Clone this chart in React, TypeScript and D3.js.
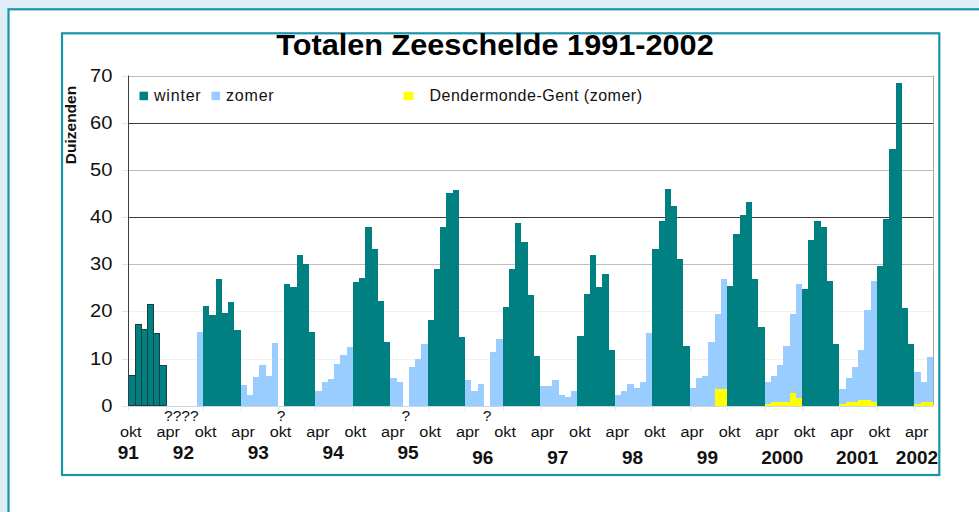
import * as d3 from 'd3'

// monthly totals (duizenden), seasons run okt..mar (winter) and apr..sep (zomer)
const winterValues: (number | null)[][] = [
  [6.3, 17.3, 16.2, 21.4, 15.4, 8.6], // 1991-92
  [21.1, 19.2, 26.9, 19.7, 22.0, 16.0],
  [null, 25.7, 25.2, 32.0, 30.0, 15.6],
  [26.2, 27.0, 37.8, 33.2, 22.1, 13.4],
  [18.1, 28.9, 37.8, 45.0, 45.8, 14.5],
  [20.9, 28.9, 38.7, 34.7, 23.4, 10.6],
  [14.7, 23.7, 32.0, 25.2, 27.9, 11.9],
  [33.2, 39.1, 45.9, 42.3, 31.2, 12.6],
  [25.3, 36.4, 40.4, 43.1, 26.9, 16.6],
  [24.8, 35.2, 39.1, 37.9, 26.5, 13.1],
  [29.6, 39.5, 54.5, 68.4, 20.8, 13.1], // 2001-02
]

const zomerValues: (number | null)[][] = [
  [null, null, null, null, null, 15.6], // 1992
  [4.3, 2.3, 6.0, 8.7, 6.3, 13.3],
  [3.2, 5.1, 5.6, 8.8, 10.7, 12.4],
  [5.9, 5.0, null, 8.2, 9.9, 13.0],
  [5.5, 3.2, 4.6, null, 11.3, 14.1],
  [4.2, 4.2, 5.5, 2.3, 1.9, 3.1],
  [2.3, 3.1, 4.6, 3.8, 5.1, 15.5],
  [3.7, 5.8, 6.3, 13.5, 19.4, 26.9],
  [5.1, 6.3, 8.6, 12.6, 19.4, 25.7],
  [3.6, 5.8, 8.1, 11.8, 20.2, 26.5],
  [7.2, 5.1, 10.3], // 2002
]

// Dendermonde-Gent (zomer), from 1999 on
const dgValues: (number | null)[][] = [
  [null, null, null, null, 3.5, 3.5], // 1999
  [0.4, 0.8, 0.8, 0.8, 2.7, 1.7],
  [0.4, 0.8, 0.8, 1.3, 1.3, 0.8],
  [0.4, 0.8, 0.8],
]
const dgFirstSeason = 7

const tickLabels = ['okt', 'apr']
const yearLabels = ['91', '92', '93', '94', '95', '96', '97', '98', '99', '2000', '2001', '2002']
const yTicks = [0, 10, 20, 30, 40, 50, 60, 70]
const legendItems = [
  { label: 'winter', color: '#008080' },
  { label: 'zomer', color: '#99ccff' },
  { label: 'Dendermonde-Gent (zomer)', color: '#ffff00' },
]

const N_MONTHS = 129 // okt 1991 .. jun 2002
const FONT = 'Liberation Sans, Arial, sans-serif'

type Bar = { m: number; v: number; kind: 'winter' | 'zomer' | 'dg'; first?: boolean }

function buildBars() {
  const bars: Bar[] = []
  winterValues.forEach((season, k) =>
    season.forEach((v, i) => { if (v != null) bars.push({ m: 12 * k + i, v, kind: 'winter', first: k === 0 }) }))
  zomerValues.forEach((season, k) =>
    season.forEach((v, i) => { if (v != null) bars.push({ m: 12 * k + 6 + i, v, kind: 'zomer' }) }))
  dgValues.forEach((season, k) =>
    season.forEach((v, i) => { if (v != null) bars.push({ m: 12 * (k + dgFirstSeason) + 6 + i, v, kind: 'dg' }) }))
  return bars
}

// the original's text is a bit stretched sideways
function SText({ x, y, sx = 1.12, children, ...rest }: any) {
  return (
    <text transform={`translate(${x},${y}) scale(${sx},1)`} {...rest}>{children}</text>
  )
}

export default function App() {
  const W = 979, H = 512
  const x = d3.scaleBand<number>().domain(d3.range(N_MONTHS)).range([128.3, 933]).padding(0)
  const y = d3.scaleLinear().domain([0, 70]).range([405.7, 75.5])
  const bw = x.bandwidth()
  const mx = (m: number) => x.range()[0] + m * x.step()
  const bars = buildBars()

  // missing months -> question marks
  const filled = new Set(bars.filter(b => b.kind !== 'dg').map(b => b.m))
  const gaps: { m0: number; m1: number }[] = []
  d3.range(N_MONTHS).forEach(m => {
    if (filled.has(m)) return
    const last = gaps[gaps.length - 1]
    if (last && last.m1 === m - 1) last.m1 = m
    else gaps.push({ m0: m, m1: m })
  })

  const ticks = d3.range(0, N_MONTHS, 6)
  const fills: Record<string, string> = { winter: '#008080', zomer: '#99ccff', dg: '#ffff00' }
  const gridColor = (t: number) =>
    t === 60 || t === 40 ? '#3c3c3c' : t === 50 || t === 30 || t === 70 ? '#bdbdbd' : t === 0 ? '#c8d6e2' : '#f1f1f1'

  const order = ['zomer', 'winter', 'dg']
  const sorted = [...bars].sort((a, b) => order.indexOf(a.kind) - order.indexOf(b.kind))

  return (
    <div style={{ position: 'absolute', left: 0, top: 0 }}>
      <svg width={W} height={H} style={{ display: 'block' }} fontFamily={FONT}>
        <rect width={W} height={H} fill="#dfeef6" />
        <rect x={8.5} y={9.3} width={1000} height={1000} fill="#fff" stroke="#1b93a8" strokeWidth={2.2} />
        <rect x={62} y={33.3} width={877.3} height={441.7} fill="#fff" stroke="#1b93a8" strokeWidth={2.2} />

        <SText x={495} y={55} sx={1.04} textAnchor="middle" fontSize={29.5} fontWeight="bold" fill="#000">
          Totalen Zeeschelde 1991-2002
        </SText>

        {/* grid */}
        {yTicks.map(t => (
          <g key={t}>
            <line x1={128} x2={933} y1={Math.round(y(t)) + 0.5} y2={Math.round(y(t)) + 0.5} stroke={gridColor(t)} strokeWidth={1} />
            <line x1={122} x2={128} y1={Math.round(y(t)) + 0.5} y2={Math.round(y(t)) + 0.5} stroke="#d6e8f6" />
            <SText x={112.5} y={y(t) + 6} sx={1.15} textAnchor="end" fontSize={17.5} fill="#111">{t}</SText>
          </g>
        ))}
        <line x1={933.5} x2={933.5} y1={y(70)} y2={y(0)} stroke="#a8a8a8" />

        {/* bars */}
        <g shapeRendering="crispEdges">
          {sorted.map((b, i) => {
            const x0 = Math.round(x(b.m)!)
            const x1 = Math.round(x(b.m)! + bw)
            return (
              <rect key={i} x={x0} y={y(b.v)} width={x1 - x0} height={y(0) - y(b.v)}
                fill={fills[b.kind]} stroke={b.first ? '#1d3d3d' : 'none'} strokeWidth={b.first ? 1 : 0} />
            )
          })}
        </g>
        <line x1={128.5} x2={128.5} y1={y(70)} y2={y(0)} stroke="#3c3c3c" />

        {/* legend */}
        {legendItems.map((d, i) => {
          const lx = [139.5, 211.5, 403.5][i]
          return (
            <g key={d.label}>
              <rect x={lx} y={91.7} width={i === 2 ? 10 : 8.5} height={8.5} fill={d.color} />
              <text x={lx + (i === 2 ? 26 : 14.5)} y={101} fontSize={16} letterSpacing={i === 2 ? 0.5 : 0.8} fill="#111">{d.label}</text>
            </g>
          )
        })}

        {/* x axis */}
        {ticks.map((m, i) => (
          <g key={m}>
            <line x1={Math.round(mx(m)) + 0.5} x2={Math.round(mx(m)) + 0.5} y1={406} y2={411} stroke="#d6e8f6" />
            <SText x={mx(m) + 2.5} y={436.5} sx={1.05} textAnchor="middle" fontSize={15.5} fill="#111">{tickLabels[i % 2]}</SText>
          </g>
        ))}
        {gaps.map(g => (
          <text key={g.m0} x={(mx(g.m0) + mx(g.m1) + bw) / 2} y={421} textAnchor="middle" fontSize={15.5} fill="#111">
            {g.m1 > g.m0 ? '????' : '?'}
          </text>
        ))}
        {yearLabels.map((t, i) => {
          const cx = i === 0 ? mx(0) : Math.min(mx(12 * i - 3) - 1, 917)
          return (
            <text key={t} x={cx} y={i < 5 ? 459 : 463.5} textAnchor="middle" fontSize={19} fontWeight="bold" fill="#111">{t}</text>
          )
        })}

        <text transform="translate(76,125) rotate(-90)" textAnchor="middle" fontSize={15.5} fontWeight="bold" fill="#111">
          Duizenden
        </text>
      </svg>
    </div>
  )
}
